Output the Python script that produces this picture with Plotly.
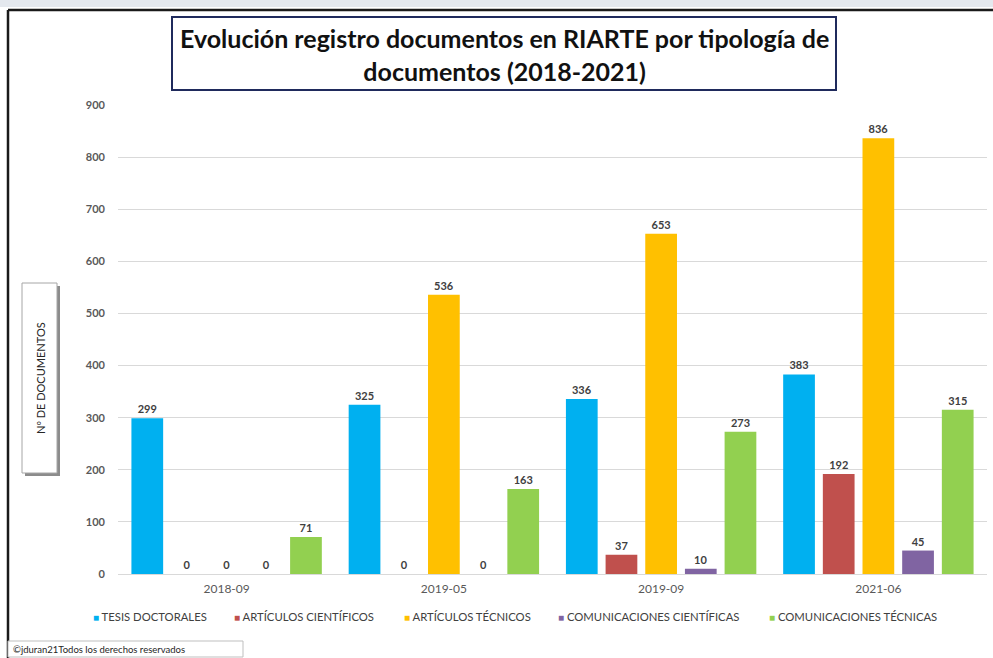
import plotly.graph_objects as go

categories = ["2018-09", "2019-05", "2019-09", "2021-06"]
series_names = ["TESIS DOCTORALES", "ARTÍCULOS CIENTÍFICOS", "ARTÍCULOS TÉCNICOS",
                "COMUNICACIONES CIENTÍFICAS", "COMUNICACIONES TÉCNICAS"]
tesis = [299, 325, 336, 383]
art_cient = [0, 0, 37, 192]
art_tec = [0, 536, 653, 836]
com_cient = [0, 0, 10, 45]
com_tec = [71, 163, 273, 315]
series_values = [tesis, art_cient, art_tec, com_cient, com_tec]
colors = ["#00B0F0", "#C0504D", "#FFC000", "#8064A2", "#92D050"]
y_ticks = [0, 100, 200, 300, 400, 500, 600, 700, 800, 900]

FONT = "Lato"
L, R, T, B = 118, 6, 105, 84
W, H = 993, 658
pw, ph = W - L - R, H - T - B


def px(x):
    return (x - L) / pw


def py(y):
    return (H - B - y) / ph


fig = go.Figure()
for name, vals, col in zip(series_names, series_values, colors):
    fig.add_trace(go.Bar(
        x=categories, y=vals, name=name, marker_color=col, showlegend=False,
        marker_line_width=0,
        text=[str(v) for v in vals], textposition="outside",
        textfont=dict(family=FONT, size=11, color="#404040", weight="bold"),
        cliponaxis=False, hoverinfo="x+y+name",
    ))

# legend: one small legend per series, placed like the reference
legend_marker_left = [93, 234, 404, 558, 769]
legend_ids = ["legend", "legend2", "legend3", "legend4", "legend5"]
legend_layout = {}
for name, col, lid, mx in zip(series_names, colors, legend_ids, legend_marker_left):
    fig.add_trace(go.Scatter(
        x=[None], y=[None], mode="markers", legend=lid,
        name=f"<span style='color:{col};font-size:10px'>■</span> {name}",
        marker=dict(symbol="square", size=1, color="rgba(0,0,0,0)"),
    ))
    legend_layout[lid] = dict(
        orientation="h", x=px(mx - 40), xanchor="left", y=py(617), yanchor="middle",
        font=dict(family=FONT, size=11.3, color="#404040"), itemwidth=30,
        bgcolor="rgba(0,0,0,0)",
    )

shapes = [
    dict(type="rect", xref="paper", yref="paper", x0=px(0), x1=px(W), y0=py(7), y1=py(0),
         fillcolor="#E4E8EE", line_width=0, layer="below"),
    dict(type="line", xref="paper", yref="paper", x0=px(8), x1=px(W), y0=py(10), y1=py(10),
         line=dict(color="#1a1a1a", width=2.5)),
    dict(type="line", xref="paper", yref="paper", x0=px(8), x1=px(8), y0=py(10), y1=py(H),
         line=dict(color="#1a1a1a", width=2.5)),
    dict(type="rect", xref="paper", yref="paper", x0=px(172), x1=px(836), y0=py(90), y1=py(17),
         line=dict(color="#1F2A5C", width=2), fillcolor="white"),
    dict(type="rect", xref="paper", yref="paper", x0=px(25), x1=px(60), y0=py(476), y1=py(286),
         line_width=0, fillcolor="#8C8C8C"),
    dict(type="rect", xref="paper", yref="paper", x0=px(22), x1=px(57), y0=py(473), y1=py(283),
         line=dict(color="#A6A6A6", width=1), fillcolor="white"),
    dict(type="rect", xref="paper", yref="paper", x0=px(8), x1=px(243), y0=py(657), y1=py(641),
         line=dict(color="#BFBFBF", width=1), fillcolor="white"),
]

annotations = [
    dict(xref="paper", yref="paper", x=px(504), y=py(55), xanchor="center", yanchor="middle",
         text="<b>Evolución registro documentos en RIARTE por tipología de<br>documentos (2018-2021)</b>",
         showarrow=False, font=dict(family=FONT, size=25, color="#111111"), align="center"),
    dict(xref="paper", yref="paper", x=px(40), y=py(378), xanchor="center", yanchor="middle",
         text="Nº DE DOCUMENTOS", textangle=-90, showarrow=False,
         font=dict(family=FONT, size=11, color="#262626")),
    dict(xref="paper", yref="paper", x=px(11), y=py(649), xanchor="left", yanchor="middle",
         text="©jduran21Todos los derechos reservados", showarrow=False,
         font=dict(family=FONT, size=9.5, color="#262626")),
]

fig.update_layout(
    width=W, height=H,
    margin=dict(l=L, r=R, t=T, b=B),
    paper_bgcolor="white", plot_bgcolor="white",
    barmode="group", bargap=0.087, bargroupgap=0.2,
    shapes=shapes, annotations=annotations,
    xaxis=dict(type="category", showgrid=False, showline=True, linecolor="#D9D9D9",
               ticks="", tickfont=dict(family=FONT, size=12, color="#595959"),
               ticklabelstandoff=4),
    yaxis=dict(range=[0, 900], tickvals=y_ticks, showgrid=True, gridcolor="#D9D9D9",
               gridwidth=1, zeroline=False, showline=False,
               tickfont=dict(family=FONT, size=11, color="#595959", weight="bold"),
               ticklabelstandoff=12),
    **legend_layout,
)

fig.write_html("out.html", config={"displayModeBar": False},
               post_script="document.body.style.margin='0';")
